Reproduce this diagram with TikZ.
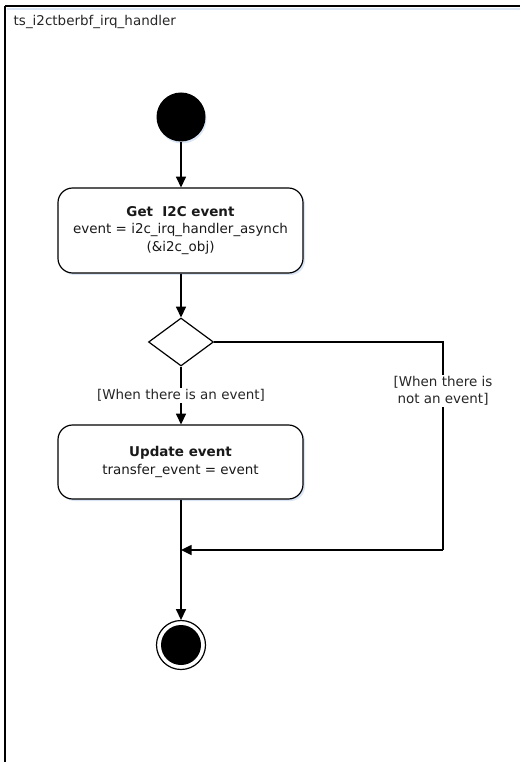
\documentclass[tikz,border=0pt]{standalone}
\usepackage{fontspec}
\setmainfont{DejaVu Sans}
\usetikzlibrary{arrows.meta,shapes.geometric}
\definecolor{shadowblue}{RGB}{218,230,245}
\tikzset{
  x=0.75pt, y=-0.75pt,
  conn/.style={line width=1.1pt, -{Triangle[length=8pt,width=7.5pt]}},
  plain/.style={line width=1.1pt},
  actbox/.style={draw, line width=0.9pt, rounded corners=11pt, fill=white,
     minimum width=183.75pt, align=center, font=\fontsize{10.1}{13.2}\selectfont, text=black!90},
  lbl/.style={font=\fontsize{10.1}{13}\selectfont, fill=white, inner sep=1pt, align=center, text=black!85},
}
\begin{document}
\begin{tikzpicture}
\useasboundingbox (0,0) rectangle (520,762);
\fill[white] (0,0) rectangle (520,762);
% frame
\draw[shadowblue, line width=1pt] (7,9) -- (520,9);
\draw[line width=1.5pt] (5,6) -- (520,6);
\draw[line width=1.5pt] (5,6) -- (5,762);
\node[anchor=west, font=\fontsize{10.1}{12}\selectfont, text=black!85] (title) at (9,22) {ts\_i2ctberbf\_irq\_handler};
% start
\fill[shadowblue] (182,119) circle (24.5);
\node[circle, fill=black, minimum size=36.75pt, inner sep=0pt] (start) at (181,117) {};
% box 1
\fill[shadowblue, rounded corners=11pt] (60,190) rectangle (305,275);
\node[actbox, minimum height=63.75pt] (b1) at (180.5,230.5) {\textbf{Get\ \ I2C event}\\event = i2c\_irq\_handler\_asynch\\(\&i2c\_obj)};
% decision
\node[diamond, draw, line width=0.9pt, fill=white, minimum width=48.75pt, minimum height=36pt, inner sep=0pt] (dec) at (181,342) {};
% box 2
\fill[shadowblue, rounded corners=11pt] (60,427) rectangle (305,501);
\node[actbox, minimum height=55.5pt] (b2) at (180.5,462) {\textbf{Update event}\\transfer\_event = event};
% end
\node[circle, draw, line width=0.9pt, fill=white, minimum size=36.75pt, inner sep=0pt] (end) at (181,645) {};
\fill[black] (end.center) circle (20);
\coordinate (corner1) at (443,342);
\coordinate (corner2) at (443,550);
\coordinate (join) at (181,550);
% connectors
\draw[conn] (start) -- (b1.north -| start);
\draw[conn] (b1.south -| dec) -- (dec.north);
\draw[conn] (dec.south) -- (b2.north -| dec) node[lbl, pos=0.5] (l1) {[When there is an event]};
\draw[plain] (dec.east) -- (corner1) -- (corner2);
\draw[conn] (corner2) -- (join);
\draw[conn] (b2.south -| end) -- (end.north);
\node[lbl] (l2) at (443,391) {[When there is\\not an event]};
\end{tikzpicture}
\end{document}
